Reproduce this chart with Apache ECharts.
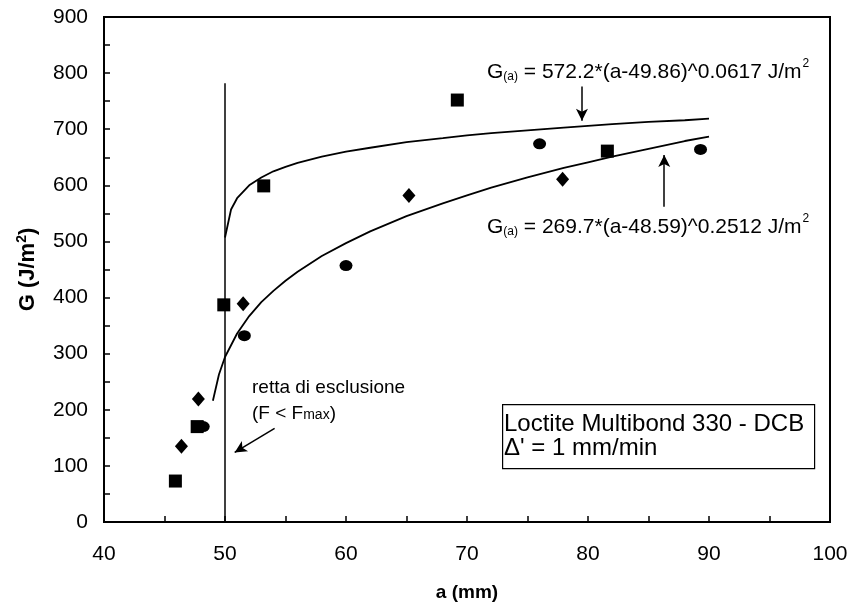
<!DOCTYPE html>
<html>
<head>
<meta charset="utf-8">
<script src="https://cdn.jsdelivr.net/npm/echarts@6/dist/echarts.min.js"></script>
<style>
  html, body { margin: 0; padding: 0; background: #fff; }
  #main { width: 847px; height: 604px; }
</style>
</head>
<body>
<div id="main"></div>
<script>
// punti sperimentali (a in mm, G in J/m^2)
var squarePts = [[45.9, 73], [47.7, 170], [49.9, 387], [53.2, 599], [69.2, 752], [81.6, 661]];
var diamondPts = [[46.4, 135], [47.8, 219], [51.5, 389], [65.2, 582], [77.9, 611]];
var circlePts = [[48.2, 170], [51.6, 332], [60.0, 457], [76.0, 674], [89.3, 664]];

// curve di regressione
var upperFit = [[50, 507], [50.5, 557], [51, 577], [52, 600], [53, 614], [54, 625], [55, 633], [56, 640],
  [58, 651], [60, 660], [62, 667], [65, 677], [68, 684], [70, 689], [72, 693], [75, 698], [78, 703],
  [80, 706], [82, 709], [85, 713], [88, 716], [90, 719]];
var lowerFit = [[49, 216], [49.5, 263], [50, 294], [51, 336], [52, 367], [53, 392], [54, 412], [55, 430],
  [56, 446], [58, 474], [60, 497], [62, 518], [65, 545], [68, 568], [70, 582], [72, 596], [75, 614],
  [78, 631], [80, 641], [82, 651], [85, 665], [88, 679], [90, 687]];

// retta di esclusione a = 50 mm
var cutLine = [[50, 0], [50, 782]];

// frecce (inizio, punta)
var arrows = [
  [[79.5, 776], [79.5, 715]],
  [[86.3, 562], [86.3, 654]],
  [[54.1, 167], [50.8, 124]]
];

var FONT = 'Liberation Sans, Arial, sans-serif';

var chart = echarts.init(document.getElementById('main'));

var option = {
  animation: false,
  backgroundColor: '#fff',
  textStyle: { fontFamily: FONT, color: '#000' },
  grid: {
    left: 104, right: 17, top: 17, bottom: 82,
    containLabel: false, outerBoundsMode: 'none',
    show: true, borderColor: '#000', borderWidth: 2
  },
  xAxis: {
    type: 'value', min: 40, max: 100, interval: 5,
    name: 'a (mm)', nameLocation: 'middle', nameGap: 61,
    nameTextStyle: { fontFamily: FONT, fontSize: 19, fontWeight: 'bold', color: '#000' },
    axisLine: { show: true, lineStyle: { color: '#000', width: 2 } },
    axisTick: { show: true, inside: true, length: 6, lineStyle: { color: '#000', width: 1.5 } },
    axisLabel: {
      fontFamily: FONT, fontSize: 21, color: '#000', margin: 22,
      formatter: function (v) { return v % 10 === 0 ? String(v) : ''; }
    },
    splitLine: { show: false }
  },
  yAxis: {
    type: 'value', min: 0, max: 900, interval: 50,
    name: '{b|G (J/m}{s|2}{b|)}', nameLocation: 'middle', nameGap: 63,
    nameTextStyle: {
      rich: {
        b: { fontFamily: FONT, fontSize: 22, fontWeight: 'bold', color: '#000' },
        s: { fontFamily: FONT, fontSize: 14, fontWeight: 'bold', color: '#000', padding: [0, 0, 12, 0] }
      }
    },
    axisLine: { show: true, lineStyle: { color: '#000', width: 2 } },
    axisTick: { show: true, inside: true, length: 6, lineStyle: { color: '#000', width: 1.5 } },
    axisLabel: {
      fontFamily: FONT, fontSize: 21, color: '#000', margin: 16,
      formatter: function (v) { return v % 100 === 0 ? String(v) : ''; }
    },
    splitLine: { show: false }
  },
  series: [
    {
      type: 'line', data: cutLine, symbol: 'none', silent: true,
      lineStyle: { color: '#000', width: 1.5 },
      markLine: {
        silent: true, symbol: ['none', 'arrow'], symbolSize: [9, 12],
        label: { show: false },
        lineStyle: { color: '#000', width: 1.5, type: 'solid' },
        data: arrows.map(function (a) { return [{ coord: a[0] }, { coord: a[1] }]; })
      }
    },
    {
      type: 'line', data: upperFit, symbol: 'none', silent: true,
      lineStyle: { color: '#000', width: 1.8 }
    },
    {
      type: 'line', data: lowerFit, symbol: 'none', silent: true,
      lineStyle: { color: '#000', width: 1.8 }
    },
    {
      type: 'scatter', data: squarePts, symbol: 'rect', symbolSize: 13,
      itemStyle: { color: '#000', opacity: 1 }
    },
    {
      type: 'scatter', data: diamondPts, symbol: 'diamond', symbolSize: [13, 15],
      itemStyle: { color: '#000', opacity: 1 }
    },
    {
      type: 'scatter', data: circlePts, symbol: 'circle', symbolSize: [13, 11],
      itemStyle: { color: '#000', opacity: 1 }
    }
  ],
  graphic: [
    {
      type: 'text', left: 487, top: 58, silent: true,
      style: {
        text: '{m|G}{sub|(a)}{m| = 572.2*(a-49.86)^0.0617 J/m}{sup|2}',
        rich: {
          m: { fontFamily: FONT, fontSize: 21, fill: '#000' },
          sub: { fontFamily: FONT, fontSize: 12, fill: '#000', padding: [9, 0, 0, 0] },
          sup: { fontFamily: FONT, fontSize: 12, fill: '#000', padding: [0, 0, 16, 1] }
        }
      }
    },
    {
      type: 'text', left: 487, top: 213, silent: true,
      style: {
        text: '{m|G}{sub|(a)}{m| = 269.7*(a-48.59)^0.2512 J/m}{sup|2}',
        rich: {
          m: { fontFamily: FONT, fontSize: 21, fill: '#000' },
          sub: { fontFamily: FONT, fontSize: 12, fill: '#000', padding: [9, 0, 0, 0] },
          sup: { fontFamily: FONT, fontSize: 12, fill: '#000', padding: [0, 0, 16, 1] }
        }
      }
    },
    {
      type: 'text', left: 252, top: 378, silent: true,
      style: {
        text: '{m|retta di esclusione}\n{m|(F < F}{sub|max}{m|)}',
        rich: {
          m: { fontFamily: FONT, fontSize: 19, fill: '#000', lineHeight: 26 },
          sub: { fontFamily: FONT, fontSize: 14, fill: '#000', lineHeight: 26, padding: [4, 0, 0, 0] }
        }
      }
    },
    {
      type: 'rect', left: 502, top: 404, silent: true,
      shape: { width: 312, height: 64 },
      style: { fill: '#fff', stroke: '#000', lineWidth: 1.2 }
    },
    {
      type: 'text', left: 504, top: 412, silent: true,
      style: {
        text: 'Loctite Multibond 330 - DCB\n\u0394\' = 1 mm/min',
        fontFamily: FONT, fontSize: 24, fill: '#000', lineHeight: 24
      }
    }
  ]
};

chart.setOption(option);
</script>
</body>
</html>
